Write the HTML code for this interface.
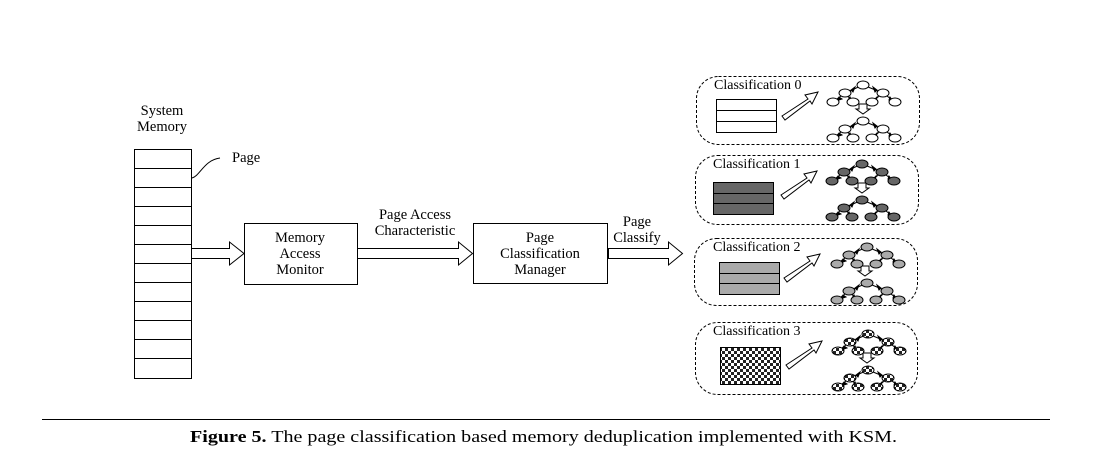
<!DOCTYPE html>
<html><head><meta charset="utf-8"><style>
html,body{margin:0;padding:0;background:#fff}
svg{display:block}
text{font-family:"Liberation Serif",serif;fill:#000}
</style></head><body>
<svg width="1097" height="458" viewBox="0 0 1097 458" xmlns="http://www.w3.org/2000/svg">
<defs>
<pattern id="chk" width="6" height="6" patternUnits="userSpaceOnUse">
<rect width="6" height="6" fill="#fff"/><rect width="3" height="3" fill="#222"/><rect x="3" y="3" width="3" height="3" fill="#222"/>
</pattern>
<g id="tree">
<line x1="863" y1="0" x2="845" y2="8" stroke="#000"/>
<line x1="863" y1="0" x2="883" y2="8" stroke="#000"/>
<line x1="845" y1="8" x2="833" y2="17" stroke="#000"/>
<line x1="845" y1="8" x2="853" y2="17" stroke="#000"/>
<line x1="883" y1="8" x2="872" y2="17" stroke="#000"/>
<line x1="883" y1="8" x2="895" y2="17" stroke="#000"/>
<polygon points="851,5 855,2 853,7" fill="#000"/>
<polygon points="877,5 873,2 875,7" fill="#000"/>
<polygon points="839,12 836,16 842,14" fill="#000"/>
<polygon points="850,12 852,16 848,15" fill="#000"/>
<polygon points="877,12 873,16 876,16" fill="#000"/>
<polygon points="890,12 893,16 889,15" fill="#000"/>
</g>
<g id="arr">
<polygon points="782,116 808,99 805,95 818,92 812,104 810,101 785,120" fill="#fff" stroke="#000"/>
<polygon points="859,104 867,104 867,109 870,109 863,114 856,109 859,109" fill="#fff" stroke="#000"/>
</g>
</defs>

<!-- System memory -->
<text x="162" y="115" font-size="14.5" text-anchor="middle">System</text>
<text x="162" y="131" font-size="14.5" text-anchor="middle">Memory</text>
<rect x="134.5" y="149.5" width="57" height="229" fill="#fff" stroke="#000"/>
<g stroke="#000">
<line x1="134" y1="168.5" x2="191" y2="168.5"/><line x1="134" y1="187.5" x2="191" y2="187.5"/>
<line x1="134" y1="206.5" x2="191" y2="206.5"/><line x1="134" y1="225.5" x2="191" y2="225.5"/>
<line x1="134" y1="244.5" x2="191" y2="244.5"/><line x1="134" y1="263.5" x2="191" y2="263.5"/>
<line x1="134" y1="282.5" x2="191" y2="282.5"/><line x1="134" y1="301.5" x2="191" y2="301.5"/>
<line x1="134" y1="320.5" x2="191" y2="320.5"/><line x1="134" y1="339.5" x2="191" y2="339.5"/>
<line x1="134" y1="358.5" x2="191" y2="358.5"/>
</g>
<path d="M192,178 C200,176 204,160 220,158" fill="none" stroke="#000"/>
<text x="232" y="162" font-size="14.5">Page</text>

<!-- arrows -->
<g fill="#fff" stroke="#000">
<polygon points="191.5,248.5 229.5,248.5 229.5,242 244,253.5 229.5,265 229.5,258.5 191.5,258.5"/>
<polygon points="357.5,248.5 458.5,248.5 458.5,242 472.5,253.5 458.5,265 458.5,258.5 357.5,258.5"/>
<polygon points="608.5,248.5 668.5,248.5 668.5,242 682.5,253.5 668.5,265 668.5,258.5 608.5,258.5"/>
</g>

<rect x="244.5" y="223.5" width="113" height="61" fill="#fff" stroke="#000"/>
<text x="300" y="242" font-size="14.5" text-anchor="middle">Memory</text>
<text x="300" y="258" font-size="14.5" text-anchor="middle">Access</text>
<text x="300" y="274" font-size="14.5" text-anchor="middle">Monitor</text>

<text x="415" y="219" font-size="14.5" text-anchor="middle">Page Access</text>
<text x="415" y="235" font-size="14.5" text-anchor="middle">Characteristic</text>

<rect x="473.5" y="223.5" width="134" height="60" fill="#fff" stroke="#000"/>
<text x="540" y="242" font-size="14.5" text-anchor="middle">Page</text>
<text x="540" y="258" font-size="14.5" text-anchor="middle">Classification</text>
<text x="540" y="274" font-size="14.5" text-anchor="middle">Manager</text>

<text x="637" y="226" font-size="14.5" text-anchor="middle">Page</text>
<text x="637" y="242" font-size="14.5" text-anchor="middle">Classify</text>

<!-- Classification 0 -->
<rect x="696.5" y="76.5" width="223" height="68" rx="22" fill="none" stroke="#000" stroke-dasharray="3,2"/>
<text x="714" y="89" font-size="14">Classification 0</text>
<rect x="716.5" y="99.5" width="60" height="33" fill="#fff" stroke="#000"/>
<line x1="716" y1="110.5" x2="776" y2="110.5" stroke="#000"/><line x1="716" y1="121.5" x2="776" y2="121.5" stroke="#000"/>
<use href="#arr"/>
<g fill="#fff" stroke="#000"><use href="#tree" transform="translate(0,85)"/><use href="#tree" transform="translate(0,121)"/>
<ellipse cx="863" cy="85" rx="6" ry="4"/><ellipse cx="845" cy="93" rx="6" ry="4"/><ellipse cx="883" cy="93" rx="6" ry="4"/>
<ellipse cx="833" cy="102" rx="6" ry="4"/><ellipse cx="853" cy="102" rx="6" ry="4"/><ellipse cx="872" cy="102" rx="6" ry="4"/><ellipse cx="895" cy="102" rx="6" ry="4"/>
<ellipse cx="863" cy="121" rx="6" ry="4"/><ellipse cx="845" cy="129" rx="6" ry="4"/><ellipse cx="883" cy="129" rx="6" ry="4"/>
<ellipse cx="833" cy="138" rx="6" ry="4"/><ellipse cx="853" cy="138" rx="6" ry="4"/><ellipse cx="872" cy="138" rx="6" ry="4"/><ellipse cx="895" cy="138" rx="6" ry="4"/>
</g>

<!-- Classification 1 -->
<g transform="translate(-1,79)">
<rect x="696.5" y="76.5" width="223" height="69" rx="22" fill="none" stroke="#000" stroke-dasharray="3,2"/>
<text x="714" y="89" font-size="14">Classification 1</text>
<rect x="714.5" y="103.5" width="60" height="32" fill="#666" stroke="#000"/>
<line x1="714" y1="114.5" x2="774" y2="114.5" stroke="#000"/><line x1="714" y1="124.5" x2="774" y2="124.5" stroke="#000"/>
<use href="#arr"/>
<g fill="#666" stroke="#000"><use href="#tree" transform="translate(0,85)"/><use href="#tree" transform="translate(0,121)"/>
<ellipse cx="863" cy="85" rx="6" ry="4"/><ellipse cx="845" cy="93" rx="6" ry="4"/><ellipse cx="883" cy="93" rx="6" ry="4"/>
<ellipse cx="833" cy="102" rx="6" ry="4"/><ellipse cx="853" cy="102" rx="6" ry="4"/><ellipse cx="872" cy="102" rx="6" ry="4"/><ellipse cx="895" cy="102" rx="6" ry="4"/>
<ellipse cx="863" cy="121" rx="6" ry="4"/><ellipse cx="845" cy="129" rx="6" ry="4"/><ellipse cx="883" cy="129" rx="6" ry="4"/>
<ellipse cx="833" cy="138" rx="6" ry="4"/><ellipse cx="853" cy="138" rx="6" ry="4"/><ellipse cx="872" cy="138" rx="6" ry="4"/><ellipse cx="895" cy="138" rx="6" ry="4"/>
</g></g>

<!-- Classification 2 -->
<g transform="translate(-1,162)">
<rect x="695.5" y="76.5" width="223" height="67" rx="22" fill="none" stroke="#000" stroke-dasharray="3,2"/>
<text x="714" y="89" font-size="14">Classification 2</text>
<rect x="720.5" y="100.5" width="60" height="32" fill="#aaa" stroke="#000"/>
<line x1="720" y1="111.5" x2="780" y2="111.5" stroke="#000"/><line x1="720" y1="121.5" x2="780" y2="121.5" stroke="#000"/>
<use href="#arr" transform="translate(3,0)"/>
<g fill="#aaa" stroke="#000" transform="translate(5,0)"><use href="#tree" transform="translate(0,85)"/><use href="#tree" transform="translate(0,121)"/>
<ellipse cx="863" cy="85" rx="6" ry="4"/><ellipse cx="845" cy="93" rx="6" ry="4"/><ellipse cx="883" cy="93" rx="6" ry="4"/>
<ellipse cx="833" cy="102" rx="6" ry="4"/><ellipse cx="853" cy="102" rx="6" ry="4"/><ellipse cx="872" cy="102" rx="6" ry="4"/><ellipse cx="895" cy="102" rx="6" ry="4"/>
<ellipse cx="863" cy="121" rx="6" ry="4"/><ellipse cx="845" cy="129" rx="6" ry="4"/><ellipse cx="883" cy="129" rx="6" ry="4"/>
<ellipse cx="833" cy="138" rx="6" ry="4"/><ellipse cx="853" cy="138" rx="6" ry="4"/><ellipse cx="872" cy="138" rx="6" ry="4"/><ellipse cx="895" cy="138" rx="6" ry="4"/>
</g></g>

<!-- Classification 3 -->
<g transform="translate(-1,246)">
<rect x="696.5" y="76.5" width="222" height="72" rx="22" fill="none" stroke="#000" stroke-dasharray="3,2"/>
<text x="714" y="89" font-size="14">Classification 3</text>
<rect x="721.5" y="101.5" width="60" height="37" fill="url(#chk)" stroke="#000"/>
<use href="#arr" transform="translate(5,3)"/>
<g fill="url(#chk)" stroke="#000" transform="translate(6,3)"><use href="#tree" transform="translate(0,85)"/><use href="#tree" transform="translate(0,121)"/>
<ellipse cx="863" cy="85" rx="6" ry="4"/><ellipse cx="845" cy="93" rx="6" ry="4"/><ellipse cx="883" cy="93" rx="6" ry="4"/>
<ellipse cx="833" cy="102" rx="6" ry="4"/><ellipse cx="853" cy="102" rx="6" ry="4"/><ellipse cx="872" cy="102" rx="6" ry="4"/><ellipse cx="895" cy="102" rx="6" ry="4"/>
<ellipse cx="863" cy="121" rx="6" ry="4"/><ellipse cx="845" cy="129" rx="6" ry="4"/><ellipse cx="883" cy="129" rx="6" ry="4"/>
<ellipse cx="833" cy="138" rx="6" ry="4"/><ellipse cx="853" cy="138" rx="6" ry="4"/><ellipse cx="872" cy="138" rx="6" ry="4"/><ellipse cx="895" cy="138" rx="6" ry="4"/>
</g></g>

<!-- caption -->
<line x1="42" y1="419.5" x2="1050" y2="419.5" stroke="#000"/>
<text x="190" y="442" font-size="17" textLength="707" lengthAdjust="spacingAndGlyphs"><tspan font-weight="bold">Figure 5.</tspan>  The page classification based memory deduplication implemented with KSM.</text>
</svg>
</body></html>
